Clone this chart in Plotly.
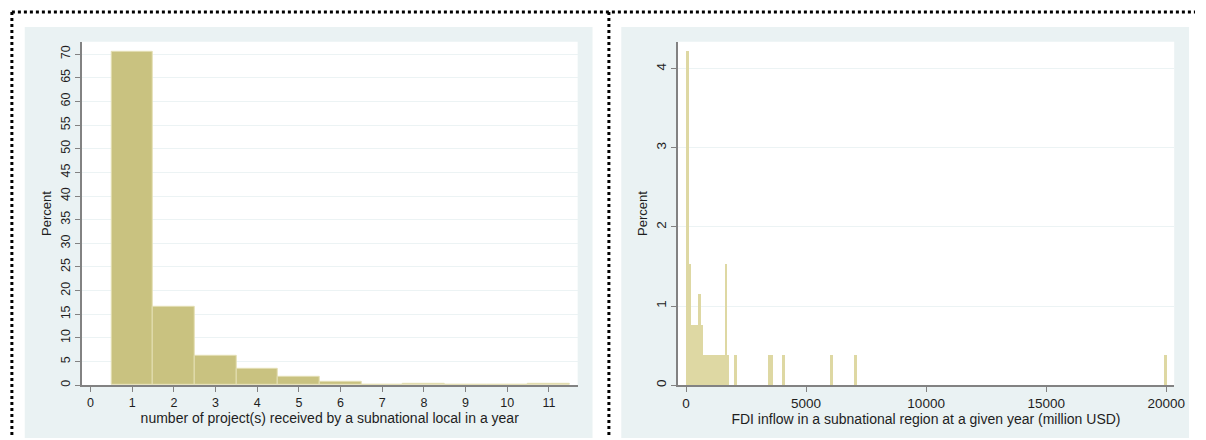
import plotly.graph_objects as go

W, H = 1206, 440

# ---- Left histogram: number of projects per subnational local per year ----
proj_bins = [1, 2, 3, 4, 5, 6, 7, 8, 9, 10, 11]
proj_pct = [70.5, 16.6, 6.3, 3.5, 1.7, 0.8, 0.0, 0.3, 0.0, 0.0, 0.3]
proj_xticks = list(range(0, 12))
proj_yticks = list(range(0, 75, 5))

# ---- Right histogram: FDI inflow (million USD), bin width 100 ----
fdi_bin_start = [0, 100, 200, 300, 400, 500, 600, 700, 800, 900, 1000, 1100,
                 1200, 1300, 1400, 1500, 1600, 1700, 2000, 3400, 3500, 4000,
                 6000, 7000, 19900]
fdi_pct = [4.23, 1.54, 0.77, 0.77, 0.77, 1.15, 0.77, 0.38, 0.38, 0.38, 0.38,
           0.38, 0.38, 0.38, 0.38, 0.38, 1.54, 0.38, 0.38, 0.38, 0.38, 0.38,
           0.38, 0.38, 0.38]
fdi_bin_width = 100
fdi_xticks = [0, 5000, 10000, 15000, 20000]
fdi_yticks = [0, 1, 2, 3, 4]

BAR = "rgb(201,194,128)"
BAR_LINE = "rgb(228,223,180)"
BAR_PALE = "rgb(222,216,163)"
PANEL = "rgb(234,242,243)"
GRID = "rgb(236,243,244)"
AXIS = "rgb(130,130,130)"
TXT = "rgb(30,30,30)"
FONT = "Liberation Sans, Arial, sans-serif"

fig = go.Figure()

fig.add_trace(go.Bar(
    x=proj_bins, y=proj_pct, width=1.0,
    marker=dict(color=BAR, line=dict(color=BAR_LINE, width=1)),
    xaxis="x", yaxis="y", showlegend=False, hoverinfo="x+y"))

fig.add_trace(go.Bar(
    x=[s + fdi_bin_width / 2 for s in fdi_bin_start], y=fdi_pct,
    width=fdi_bin_width,
    marker=dict(color=BAR_PALE, line=dict(color=BAR_PALE, width=0)),
    xaxis="x2", yaxis="y2", showlegend=False, hoverinfo="x+y"))

def px(x):
    return x / W

def py(y):
    return 1 - y / H

ydom = [py(387), py(42)]

def axis_style(tsize):
    return dict(
        showline=True, linecolor=AXIS, linewidth=1.5,
        ticks="outside", ticklen=5, tickwidth=1, tickcolor=AXIS,
        tickfont=dict(family=FONT, size=tsize, color=TXT),
        zeroline=False, mirror=False,
    )

fig.update_layout(
    margin=dict(l=0, r=0, t=0, b=0),
    paper_bgcolor="white",
    plot_bgcolor="white",
    bargap=0,
    font=dict(family=FONT, size=13, color=TXT),
    xaxis=dict(
        domain=[px(82.5), px(583)], anchor="y",
        range=[-0.21, 11.69], tickvals=proj_xticks,
        showgrid=False,
        title=dict(text="number of project(s) received by a subnational local in a year",
                   font=dict(family=FONT, size=14, color=TXT), standoff=3),
        **axis_style(12.5)),
    yaxis=dict(
        domain=ydom, anchor="x",
        range=[0, 72.6], tickvals=proj_yticks, tickangle=-90,
        showgrid=True, gridcolor=GRID, gridwidth=1,
        title=dict(text="Percent", font=dict(family=FONT, size=13, color=TXT), standoff=4),
        **axis_style(12.5)),
    xaxis2=dict(
        domain=[px(684), px(1185)], anchor="y2",
        range=[-343, 20330], tickvals=fdi_xticks, tickformat="d",
        showgrid=False,
        title=dict(text="FDI inflow in a subnational region at a given year (million USD)",
                   font=dict(family=FONT, size=14, color=TXT), standoff=2),
        **axis_style(13.5)),
    yaxis2=dict(
        domain=ydom, anchor="x2",
        range=[0, 4.34], tickvals=fdi_yticks, tickangle=-90,
        showgrid=True, gridcolor=GRID, gridwidth=1,
        title=dict(text="Percent", font=dict(family=FONT, size=13, color=TXT), standoff=3),
        **axis_style(13.5)),
)

shapes = []
# gray panel backgrounds
for x0, x1 in [(25, 598), (627, 1200)]:
    shapes.append(dict(type="rect", xref="paper", yref="paper",
                       x0=px(x0), x1=px(x1), y0=py(440), y1=py(27),
                       fillcolor=PANEL, line=dict(width=0), layer="below"))
# white plot areas on top of panels
for x0, x1 in [(82.5, 583), (684, 1185)]:
    shapes.append(dict(type="rect", xref="paper", yref="paper",
                       x0=px(x0), x1=px(x1), y0=py(387), y1=py(42),
                       fillcolor="white", line=dict(width=0), layer="below"))
# dotted borders
dot = dict(color="black", width=3, dash="dot")
shapes.append(dict(type="line", xref="paper", yref="paper",
                   x0=px(12), x1=1, y0=py(12), y1=py(12), line=dot))
shapes.append(dict(type="line", xref="paper", yref="paper",
                   x0=px(12), x1=px(12), y0=py(12), y1=0, line=dot))
shapes.append(dict(type="line", xref="paper", yref="paper",
                   x0=px(614.5), x1=px(614.5), y0=py(12), y1=0, line=dot))
fig.update_layout(shapes=shapes)

fig.write_html("out.html",
               config={"displayModeBar": False, "responsive": False},
               default_width="1206px",
               default_height="440px; position:fixed; top:0; left:0; margin:0")
